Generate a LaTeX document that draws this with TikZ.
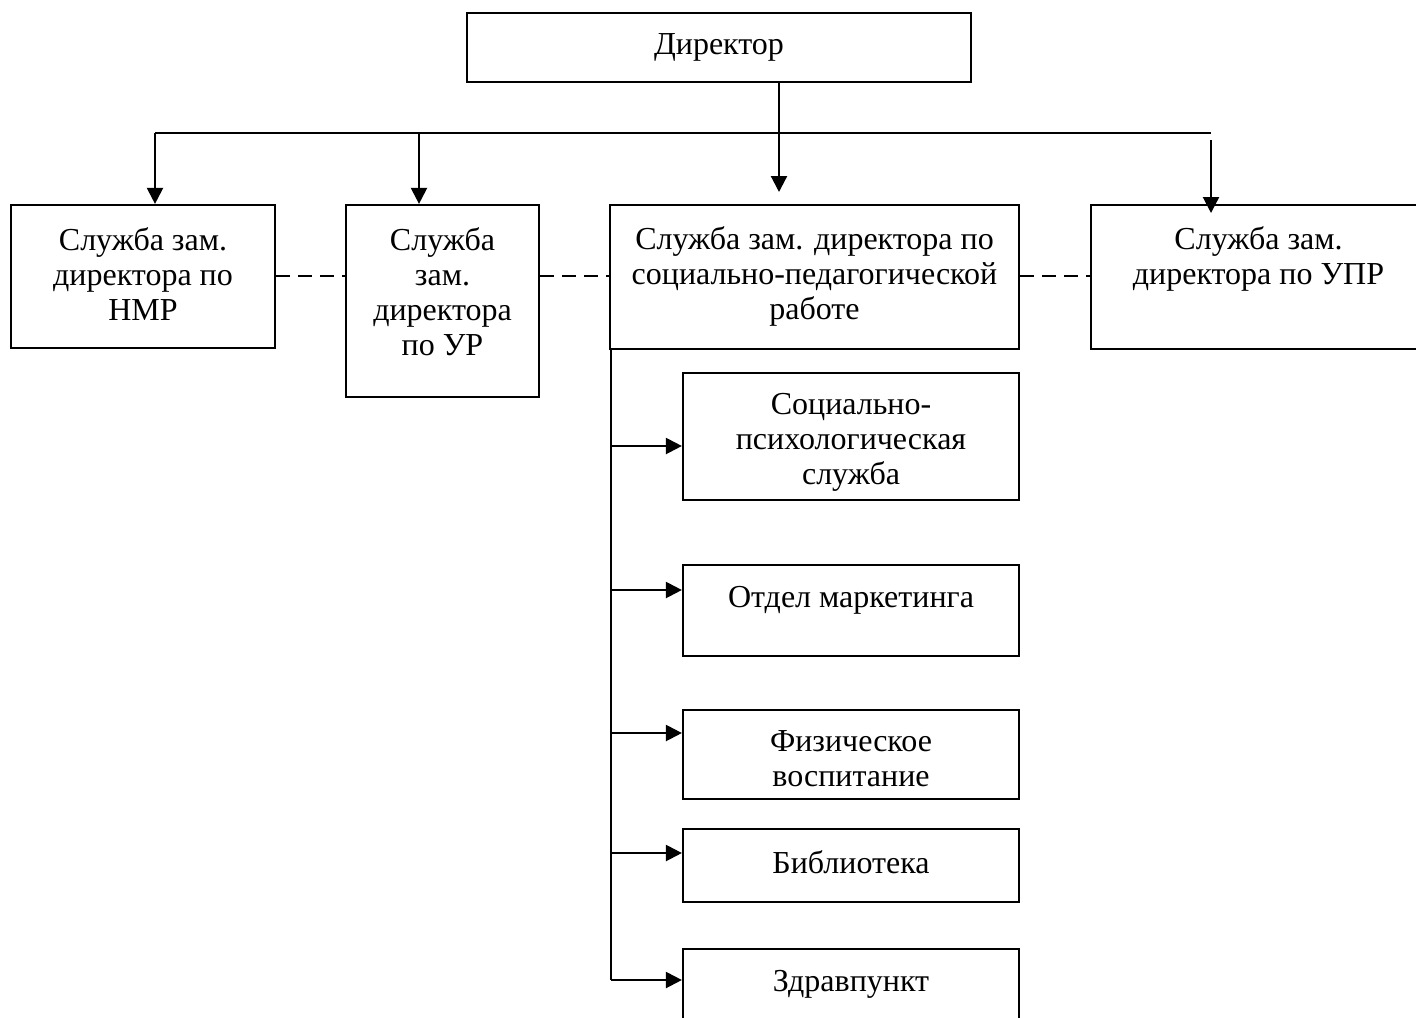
\documentclass[tikz,border=0pt]{standalone}
\usepackage{fontspec}
\setmainfont{Liberation Serif}
\usetikzlibrary{arrows.meta,fit}
\begin{document}
\begin{tikzpicture}[x=0.5pt,y=-0.5pt,
  box/.style={draw,line width=1.1pt,inner sep=0pt},
  lbl/.style={anchor=north,align=center,inner sep=0pt,font=\fontsize{16pt}{17.5pt}\selectfont},
  conn/.style={line width=1.1pt},
  arr/.style={line width=1.1pt,-{Triangle[length=8pt,width=8pt]}},
  dsh/.style={line width=1.1pt,dash pattern=on 7pt off 4pt}]
\clip (0,0) rectangle (1416,1017);
% boxes
\node[box,fit={(467,13) (971,82)}] (dir) {};
\node[box,fit={(11,205) (275,348)}] (nmr) {};
\node[box,fit={(346,205) (539,397)}] (ur) {};
\node[box,fit={(610,205) (1019,349)}] (sp) {};
\node[box,fit={(1091,205) (1426,349)}] (upr) {};
\node[box,fit={(683,373) (1019,500)}] (psy) {};
\node[box,fit={(683,565) (1019,656)}] (mkt) {};
\node[box,fit={(683,710) (1019,799)}] (phy) {};
\node[box,fit={(683,829) (1019,902)}] (lib) {};
\node[box,fit={(683,949) (1019,1040)}] (med) {};
% labels
\node[lbl] (tdir) at ([yshift=-10.5pt]dir.north) {Директор};
\node[lbl] (tnmr) at ([yshift=-11.5pt]nmr.north) {Служба зам.\\директора по\\НМР};
\node[lbl] (tur) at ([yshift=-11.5pt]ur.north) {Служба\\зам.\\директора\\по УР};
\node[lbl] (tsp) at ([yshift=-11pt]sp.north) {Служба зам. директора по\\социально-педагогической\\работе};
\node[lbl] (tupr) at ([yshift=-11pt]upr.north) {Служба зам.\\директора по УПР};
\node[lbl] (tpsy) at ([yshift=-10.5pt]psy.north) {Социально-\\психологическая\\служба};
\node[lbl] (tmkt) at ([yshift=-11pt]mkt.north) {Отдел маркетинга};
\node[lbl] (tphy) at ([yshift=-10.5pt]phy.north) {Физическое\\воспитание};
\node[lbl] (tlib) at ([yshift=-11pt]lib.north) {Библиотека};
\node[lbl] (tmed) at ([yshift=-11pt]med.north) {Здравпункт};
% trunk coordinates
\coordinate (j) at (779,133);
\coordinate (hl) at (155,133);
\coordinate (hu) at (419,133);
\coordinate (hr) at (1211,133);
\coordinate (cend) at (779,192);
\coordinate (rs) at (1211,140);
\coordinate (re) at (1211,213);
\coordinate (dl) at (0,276);
% top connectors
\draw[conn] (dir.south -| j) -- (j);
\draw[conn] (hl) -- (hr);
\draw[arr] (hl) -- (hl |- nmr.north);
\draw[arr] (hu) -- (hu |- ur.north);
\draw[arr] (j) -- (cend);
\draw[arr] (rs) -- (re);
% dashed links
\draw[dsh] (nmr.east |- dl) -- (ur.west |- dl);
\draw[dsh] (ur.east |- dl) -- (sp.west |- dl);
\draw[dsh] (sp.east |- dl) -- (upr.west |- dl);
% spine
\coordinate (s1) at (611,446);
\coordinate (s2) at (611,590);
\coordinate (s3) at (611,733);
\coordinate (s4) at (611,853);
\coordinate (s5) at (611,980);
\draw[conn] (sp.south -| s1) -- (s5);
\draw[arr] (s1) -- (s1 -| psy.west);
\draw[arr] (s2) -- (s2 -| mkt.west);
\draw[arr] (s3) -- (s3 -| phy.west);
\draw[arr] (s4) -- (s4 -| lib.west);
\draw[arr] (s5) -- (s5 -| med.west);
\end{tikzpicture}
\end{document}
